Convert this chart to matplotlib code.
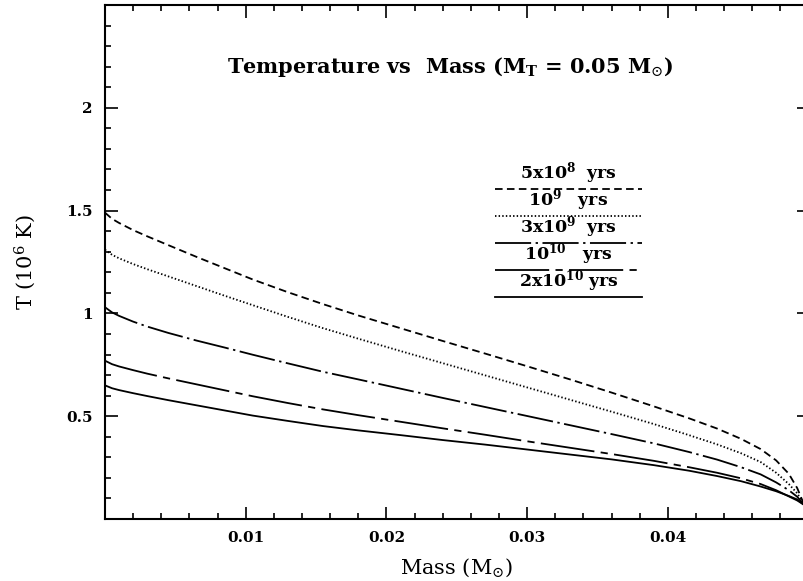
import numpy as np
import matplotlib
matplotlib.use("Agg")
import matplotlib.pyplot as plt
from matplotlib.lines import Line2D
from matplotlib.ticker import MultipleLocator, FixedLocator

plt.rcParams["font.family"] = ["DejaVu Serif"]
plt.rcParams["mathtext.fontset"] = "dejavuserif"

# Mass coordinate (solar masses) at which each cooling curve is sampled
mass = [0.0, 0.0005, 0.001, 0.002, 0.003, 0.0045, 0.0065, 0.0085, 0.0105,
        0.013, 0.0155, 0.018, 0.021, 0.024, 0.027, 0.030, 0.033, 0.036,
        0.039, 0.0415, 0.0435, 0.0452, 0.0466, 0.0477, 0.0486, 0.0492, 0.0497]

# Temperature (10^6 K) at each age
t_5e8 = [1.49, 1.46, 1.44, 1.405, 1.375, 1.332, 1.275, 1.22, 1.165,
         1.103, 1.045, 0.99, 0.928, 0.866, 0.805, 0.743, 0.68, 0.615,
         0.548, 0.49, 0.44, 0.39, 0.34, 0.285, 0.22, 0.15, 0.068]
t_1e9 = [1.31, 1.285, 1.268, 1.24, 1.215, 1.18, 1.133, 1.086, 1.04,
         0.983, 0.928, 0.877, 0.817, 0.758, 0.699, 0.64, 0.581, 0.522,
         0.462, 0.408, 0.363, 0.32, 0.277, 0.225, 0.17, 0.125, 0.068]
t_3e9 = [1.03, 1.005, 0.988, 0.96, 0.936, 0.905, 0.868, 0.834, 0.799,
         0.757, 0.716, 0.679, 0.634, 0.589, 0.545, 0.501, 0.457, 0.413,
         0.368, 0.326, 0.289, 0.252, 0.217, 0.178, 0.14, 0.108, 0.068]
t_1e10 = [0.77, 0.753, 0.742, 0.724, 0.707, 0.684, 0.655, 0.626, 0.597,
          0.564, 0.533, 0.505, 0.473, 0.441, 0.41, 0.378, 0.347, 0.316,
          0.283, 0.252, 0.225, 0.198, 0.17, 0.14, 0.11, 0.09, 0.068]
t_2e10 = [0.65, 0.636, 0.627, 0.612, 0.598, 0.578, 0.553, 0.528, 0.503,
          0.477, 0.452, 0.431, 0.408, 0.384, 0.362, 0.338, 0.314, 0.29,
          0.262, 0.235, 0.209, 0.184, 0.158, 0.135, 0.112, 0.095, 0.068]

ages = [r"$\mathbf{5x10^{8}}$  $\mathbf{yrs}$",
        r"$\mathbf{10^{9}}$   $\mathbf{yrs}$",
        r"$\mathbf{3x10^{9}}$  $\mathbf{yrs}$",
        r"$\mathbf{10^{10}}$   $\mathbf{yrs}$",
        r"$\mathbf{2x10^{10}}$ $\mathbf{yrs}$"]
series = [t_5e8, t_1e9, t_3e9, t_1e10, t_2e10]
dash_styles = [(0, (4.2, 2.4)),
               (0, (0.8, 1.2)),
               (0, (20, 2.5, 1.3, 2.5)),
               (0, (30, 3.5, 4, 3.5)),
               "solid"]

x_major = [0.01, 0.02, 0.03, 0.04]
y_major = [0.5, 1.0, 1.5, 2.0]
y_labels = ["0.5", "1", "1.5", "2"]

fig = plt.figure(figsize=(8.04, 5.81), dpi=100)
W, H = 804, 581
left, right, top, bottom = 105, 808.5, 5, 519
ax = fig.add_axes([left / W, 1 - bottom / H, (right - left) / W, (bottom - top) / H])

for t, ls in zip(series, dash_styles):
    ax.plot(mass, t, color="black", lw=1.3, linestyle=ls, dash_capstyle="butt")

ax.set_xlim(0, 0.05)
ax.set_ylim(0, 2.5)

ax.xaxis.set_major_locator(FixedLocator(x_major))
ax.set_xticklabels([f"{v:.2f}" for v in x_major])
ax.xaxis.set_minor_locator(MultipleLocator(0.002))
ax.yaxis.set_major_locator(FixedLocator(y_major))
ax.set_yticklabels(y_labels)
ax.yaxis.set_minor_locator(MultipleLocator(0.1))

ax.tick_params(which="both", direction="in", top=True, right=True,
               width=1.2, color="black")
ax.tick_params(which="major", length=9, labelsize=11, pad=9)
ax.tick_params(which="minor", length=4.5)
for lab in ax.get_xticklabels() + ax.get_yticklabels():
    lab.set_fontweight("bold")
for sp in ax.spines.values():
    sp.set_linewidth(1.5)

ax.set_xlabel(r"Mass (M$_{\odot}$)", fontsize=15, labelpad=8)
ax.set_ylabel(r"T (10$^{6}$ K)", fontsize=15, labelpad=20)

ax.text(0.49, 0.88, r"Temperature vs  Mass (M$_\mathbf{T}$ = 0.05 M$_{\odot}$)",
        transform=ax.transAxes, ha="center", va="center", fontsize=15,
        fontweight="bold")

# Key: label text sitting above a sample of each line style
key_x0 = (495 - left) / (right - left)
key_x1 = (642 - left) / (right - left)
key_xc = (key_x0 + key_x1) / 2
key_line_y = [189, 216, 243, 270, 297]
for lab, ls, py in zip(ages, dash_styles, key_line_y):
    yy = (bottom - py) / (bottom - top)
    ax.add_line(Line2D([key_x0, key_x1], [yy, yy], transform=ax.transAxes,
                       color="black", lw=1.3, linestyle=ls, dash_capstyle="butt"))
    ax.text(key_xc, yy + 0.005, lab, transform=ax.transAxes, ha="center",
            va="bottom", fontsize=12.5)

fig.savefig("out.png", dpi=100)
